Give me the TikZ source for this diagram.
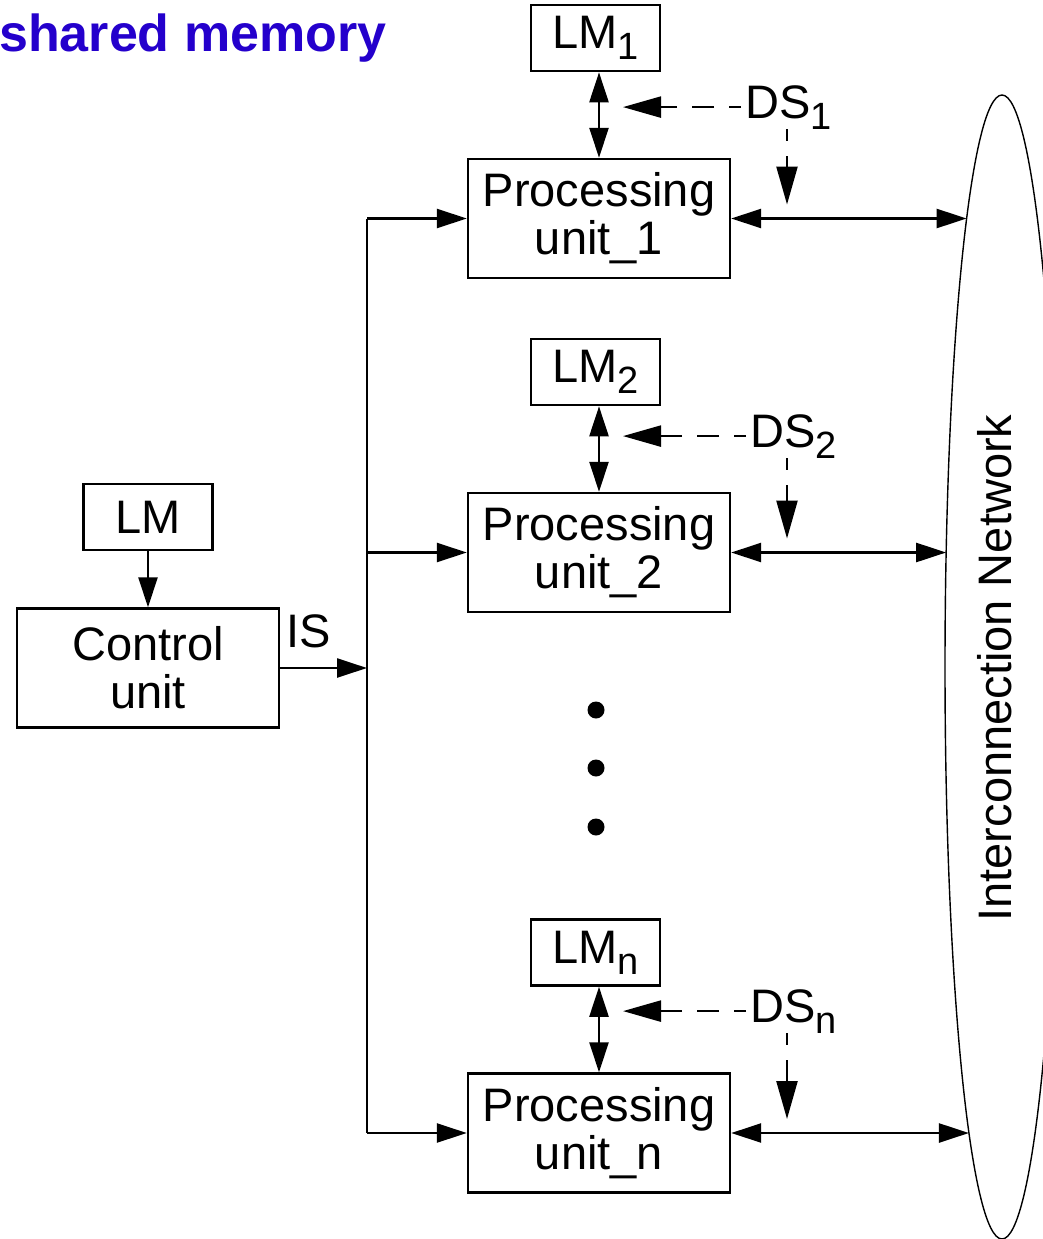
\documentclass[tikz,border=0pt]{standalone}
\usepackage{fontspec}
\setmainfont{Liberation Sans}
\usepackage{xcolor}
\usepackage{tikz}
\usetikzlibrary{arrows.meta,positioning}
\definecolor{titleblue}{HTML}{2400CC}
\newcommand{\bigfont}{\fontsize{47}{48}\selectfont}
\newcommand{\lowidx}[1]{\raisebox{-11pt}{\fontsize{38}{38}\selectfont #1}}
\tikzset{
  box/.style={draw,line width=2.4pt,minimum width=262pt,minimum height=119pt,
    inner sep=0pt,align=center,font=\bigfont},
  lmbox/.style={draw,line width=2.4pt,minimum width=129pt,minimum height=66pt,
    inner sep=0pt,font=\bigfont},
  lbl/.style={inner sep=0pt,font=\bigfont},
  wire/.style={line width=2.4pt},
  arr/.style={wire,-{Triangle[length=30pt,width=19pt]}},
  dblarr/.style={wire,{Triangle[length=30pt,width=19pt]}-{Triangle[length=30pt,width=19pt]}},
  dsarr/.style={wire,dash pattern=on 22pt off 15pt,dash phase=10pt,
    -{Triangle[length=38pt,width=21pt]}},
  netline/.style={draw,line width=1.4pt},
  dot/.style={circle,fill=black,inner sep=0pt,minimum size=17pt},
  title/.style={inner sep=0pt,text=titleblue,font=\fontsize{52}{52}\selectfont\bfseries}
}

\begin{document}
\begin{tikzpicture}[x=1pt,y=1pt]
  \useasboundingbox (0,0) rectangle (1043,-1239);
  \node[title,anchor=base west] (title) at (-1,-52) {shared memory};
  % interconnection network
  \draw[netline] (1002,-667) ellipse [x radius=57pt,y radius=572pt];
  \node[lbl,rotate=90] (net) at (995,-668) {Interconnection Network};
  % control unit
  \node[box] (cu) at (148,-668) {Control\\unit};
  \node[lmbox,above=56pt of cu] (lm) {LM};
  \draw[arr] (lm) -- (cu);
  \coordinate (bus) at (367,0);
  \coordinate (dsline) at (787,0);
  \draw[arr] (cu.east) -- (cu.east -| bus);
  \node[lbl,anchor=base west] (is) at (286,-647) {IS};
  % processing units
  \foreach \r/\y/\dsx/\dsy in {1/218.5/745/118, 2/552.5/750/447, n/1133/750/1022} {
    \node[box] (pu\r) at (599,-\y) {Processing\\unit\_\r};
    \node[lmbox,above=85.5pt of pu\r,xshift=-3.5pt] (lm\r) {LM\lowidx{\r}};
    \node[lbl,anchor=base west] (ds\r) at (\dsx,-\dsy) {DS\lowidx{\r}};
    \coordinate (net\r) at ({1002-57*sqrt(1-((\y-667)/572)^2)},-\y);
    \draw[dblarr] (pu\r.north) -- (pu\r.north |- lm\r.south);
    \draw[dblarr] (pu\r.east) -- (net\r);
    \draw[arr] (bus |- pu\r.west) -- (pu\r.west);
    \draw[dsarr] ([xshift=-4pt]ds\r.west) -- ([xshift=24pt]pu\r.north |- ds\r.west);
    \draw[dsarr] (ds\r.south -| dsline) -- ([yshift=14pt]pu\r.east -| dsline);
  }
  \draw[wire] (bus |- pu1.west) -- (bus |- pun.west);
  % dots
  \foreach \d/\yd in {1/710,2/768,3/827}
    \node[dot] (dot\d) at (596,-\yd) {};
\end{tikzpicture}
\end{document}
